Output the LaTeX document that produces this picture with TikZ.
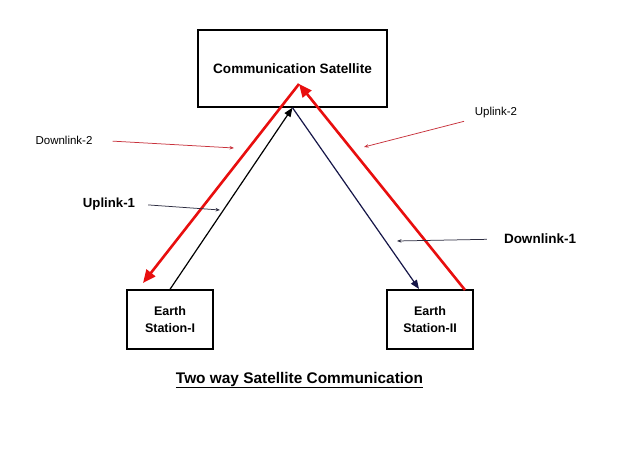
\documentclass[tikz,border=0pt]{standalone}
\usepackage{fontspec}
\setmainfont{Liberation Sans}
\usetikzlibrary{arrows.meta}
\definecolor{linkred}{RGB}{232,14,14}
\definecolor{linknavy}{RGB}{22,22,72}
\definecolor{ptrred}{RGB}{200,50,60}
\definecolor{ptrdark}{RGB}{45,45,65}
\begin{document}
\begin{tikzpicture}[x=1pt,y=-1pt,
  box/.style={draw=black,line width=1.4pt,align=center,inner sep=0pt,
    font=\fontsize{12.5}{17}\selectfont\bfseries},
  redlink/.style={draw=linkred,line width=2.6pt,-{Triangle[length=13pt,width=11pt]}},
  blacklink/.style={draw=black,line width=1.2pt,-{Triangle[length=9pt,width=7pt]}},
  navylink/.style={draw=linknavy,line width=1.2pt,-{Triangle[length=9pt,width=7pt]}},
  ptrR/.style={draw=ptrred,line width=0.75pt,-{Stealth[length=4.5pt,width=3.5pt]}},
  ptrD/.style={draw=ptrdark,line width=0.75pt,-{Stealth[length=4.5pt,width=3.5pt]}},
  lblthin/.style={inner sep=0pt,font=\fontsize{11.5}{14}\selectfont},
  lblbold/.style={inner sep=0pt,font=\fontsize{13.2}{16}\selectfont\bfseries}]
\useasboundingbox[fill=white] (0,0) rectangle (624,468);
% boxes
\node[box,minimum width=189pt,minimum height=77pt,
  font=\fontsize{13.6}{16}\selectfont\bfseries] (sat) at (292.5,68.5) {Communication Satellite};
\node[box,minimum width=86pt,minimum height=59pt] (es1) at (170,319.5) {Earth\\Station-I};
\node[box,minimum width=86pt,minimum height=59pt] (es2) at (430,319.5) {Earth\\Station-II};
% free ends
\coordinate (apex) at (299,84);
\coordinate (tip1) at (143,283);
\coordinate (s2) at (465,290);
\coordinate (tip2) at (419,289);
% links
\draw[redlink] (apex) -- (tip1);
\draw[redlink] (s2) -- (apex);
\draw[blacklink] (es1.north) -- (sat.south);
\draw[navylink] (sat.south) -- (tip2);
% labels
\node[lblthin] (dl2) at (64,140) {Downlink-2};
\node[lblbold] (ul1) at (109,204) {Uplink-1};
\node[lblthin] (ul2) at (496,113) {Uplink-2};
\node[lblbold,font=\fontsize{13.5}{16}\selectfont\bfseries] (dl1) at (540,239) {Downlink-1};
\coordinate (e1) at (234,148);
\coordinate (e2) at (220,210);
\coordinate (e3) at (364,147);
\coordinate (e4) at (397,241);
\draw[ptrR,shorten <=20pt] (dl2.east) -- (e1);
\draw[ptrD,shorten <=13pt] (ul1.east) -- (e2);
\draw[ptrR,shorten <=11pt] (ul2.south west) -- (e3);
\draw[ptrD,shorten <=17pt] (dl1.west) -- (e4);
% title
\node[anchor=base,inner sep=0pt,font=\fontsize{15.4}{18}\selectfont\bfseries] (title) at (299.5,383)
  {\underline{Two way Satellite Communication}};
\end{tikzpicture}
\end{document}
